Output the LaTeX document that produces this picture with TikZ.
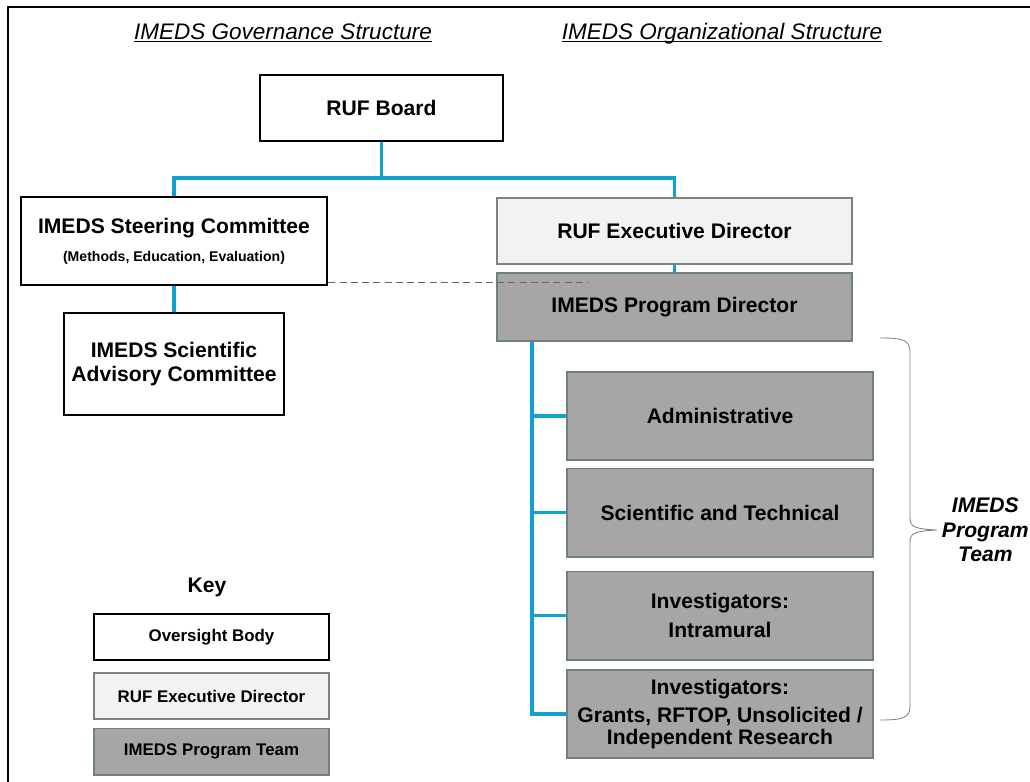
\documentclass[tikz,border=0pt]{standalone}
\usepackage{fontspec}
\setmainfont{Liberation Sans}
\usepackage{tikz}
\usetikzlibrary{positioning, calc, arrows.meta}
\definecolor{linkblue}{RGB}{16,160,212}
\definecolor{edfill}{RGB}{242,242,242}
\definecolor{edline}{RGB}{128,128,128}
\definecolor{teamfill}{RGB}{166,166,166}
\definecolor{teamline}{RGB}{110,128,128}

\begin{document}
\begin{tikzpicture}[x=0.025cm,y=-0.025cm,
    oversight/.style={draw=black,line width=1.8pt,fill=white,align=center,font=\bfseries\fontsize{15}{17}\selectfont},
    director/.style={draw=edline,line width=1.4pt,fill=edfill,align=center,font=\bfseries\fontsize{15}{17}\selectfont},
    team/.style={draw=teamline,line width=1.4pt,fill=teamfill,align=center,font=\bfseries\fontsize{15}{20}\selectfont},
    link/.style={linkblue,line width=2.3pt},
    title/.style={font=\itshape\fontsize{16}{18}\selectfont}]
            \useasboundingbox (0,0) rectangle (1030,781);
            \draw[line width=1.4pt] (8,800) --(8,7) --(1040,7); %外枠
            \node[title] (govtitle) at (283,33) {\underline{\raisebox{0pt}[\height][0pt]{IMEDS Governance Structure}}};
            \node[title] (orgtitle) at (722,33) {\underline{\raisebox{0pt}[\height][0pt]{IMEDS Organizational Structure}}};
            % 統治側
            \node[oversight,minimum width=6.075cm,minimum height=1.65cm] (board) at (381.5,108) {RUF Board};
            \node[oversight,minimum width=7.65cm,minimum height=2.2cm] (steer) at (174,241)
                {IMEDS Steering Committee\\[3pt]{\fontsize{10}{12}\selectfont (Methods, Education, Evaluation)}};
            \node[oversight,minimum width=5.5cm,minimum height=2.55cm] (advisory) at (174,364)
                {IMEDS Scientific\\Advisory Committee};
            % 組織側
            \node[director,minimum width=8.875cm,minimum height=1.65cm] (exec) at (674.5,231) {RUF Executive Director};
            \node[team,minimum width=8.875cm,minimum height=1.7cm] (pdir) at (674.5,307) {IMEDS Program Director};
            \node[team,minimum width=7.65cm,minimum height=2.2cm] (admin) at (720,416) {Administrative};
            \node[team,minimum width=7.65cm,minimum height=2.2cm] (scitech) at (720,512.5) {Scientific and Technical};
            \node[team,minimum width=7.65cm,minimum height=2.2cm] (intra) at (720,615.5) {Investigators:\\Intramural};
            \node[team,minimum width=7.65cm,minimum height=2.2cm] (grants) at (720,714)
                {Investigators:\\Grants, RFTOP, Unsolicited /\\[-5pt]Independent Research};
            % 接続線
            \coordinate (split) at (381.5,178);
            \draw[link] (board.south) --(split);
            \draw[link] (steer.north) |- (split) -| (exec.north);
            \draw[link] (exec.south) --(pdir.north);
            \draw[link] (steer.south) --(advisory.north);
            \draw[link] ([xshift=0.9cm]pdir.south west) coordinate (trunk) |- (grants.west);
            \foreach \n in {admin,scitech,intra}
                \draw[link] (trunk |- \n.west) --(\n.west);
            \draw[dash pattern=on 5pt off 3pt,gray!80!black,line width=0.8pt] ([yshift=0.1cm]steer.south east) --++(6.5cm,0); %破線
            % 括弧
            \coordinate (tip) at (937,530);
            \draw[edline,semithick] (880,338) .. controls (903,338) and (910,340) .. (910,352)
                --(910,518) .. controls (910,527) and (915,529) .. (tip)
                (tip) .. controls (915,531) and (910,533) .. (910,542)
                --(910,706) .. controls (910,718) and (903,720) .. (880,720);
            \node[align=center,font=\bfseries\itshape\fontsize{15}{17.5}\selectfont,right=0pt of tip] (teamlabel) {IMEDS\\Program\\Team};
            % 凡例
            \node[font=\bfseries\fontsize{15}{17}\selectfont] (key) at (207,587) {Key};
            \node[oversight,minimum width=5.875cm,minimum height=1.15cm,font=\bfseries\fontsize{12}{14}\selectfont] (keyover) at (211.5,637) {Oversight Body};
            \node[director,minimum width=5.875cm,minimum height=1.15cm,font=\bfseries\fontsize{12}{14}\selectfont] (keyexec) at (211.5,696) {RUF Executive Director};
            \node[team,minimum width=5.875cm,minimum height=1.15cm,font=\bfseries\fontsize{12}{14}\selectfont] (keyteam) at (211.5,751.5) {IMEDS Program Team};
        \end{tikzpicture}
\end{document}
